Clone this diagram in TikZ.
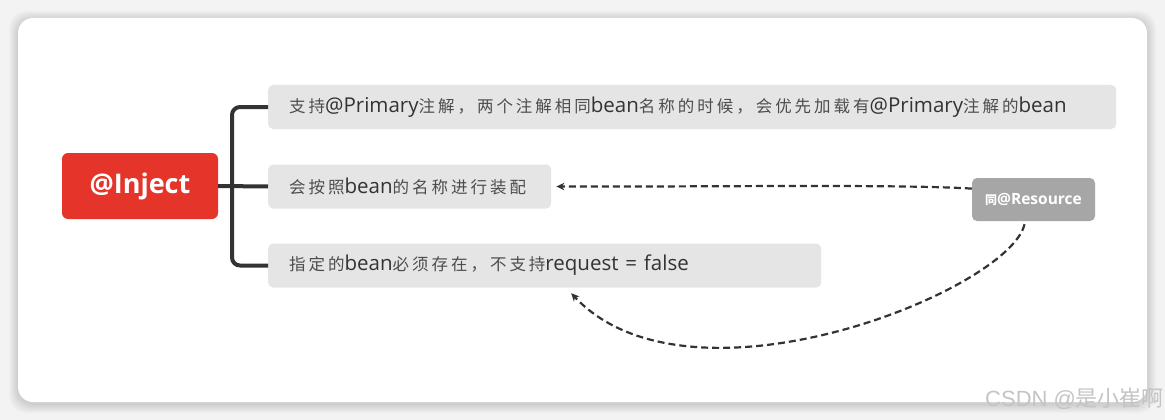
\documentclass[tikz,border=0pt]{standalone}
\usepackage{fontspec}
\setmainfont{Open Sans}
\newfontfamily\cjk[LetterSpace=18]{Noto Sans CJK SC}
\newfontfamily\cjkplain{Noto Sans CJK SC}
\newfontfamily\wmfont{Liberation Sans}
\usetikzlibrary{arrows.meta}
\definecolor{bgc}{HTML}{F3F3F3}
\definecolor{injred}{HTML}{E5352A}
\definecolor{childgray}{HTML}{E5E5E5}
\definecolor{resgray}{HTML}{A6A6A6}
\definecolor{linec}{HTML}{333333}
\definecolor{latc}{HTML}{333333}
\definecolor{zhc}{HTML}{4D4D4D}
\definecolor{wmc}{HTML}{C4C4C4}
\newcommand\zh[1]{{\fontsize{16.5}{22}\cjk\color{zhc}#1}}
\tikzset{
  injbox/.style={fill=injred, rounded corners=6pt, minimum width=156pt, minimum height=66pt,
    inner sep=0pt, text=white, font=\fontsize{27}{30}\selectfont\bfseries},
  childbox/.style={fill=childgray, rounded corners=5pt, minimum height=44pt, inner xsep=21pt,
    inner ysep=0pt, align=left, anchor=west, text=latc, font=\fontsize{20.5}{22}\selectfont},
  resbox/.style={fill=resgray, rounded corners=5pt, minimum width=123pt, minimum height=43pt,
    inner sep=0pt, text=white, font=\fontsize{15.5}{18}\selectfont\bfseries},
  bracket/.style={draw=linec, line width=4pt, rounded corners=8pt},
  dasharrow/.style={draw=linec, line width=2.2pt, dash pattern=on 7pt off 4pt,
    -{Stealth[length=8pt,width=7.5pt]}},
  watermark/.style={text=wmc, font=\fontsize{22}{24}\wmfont, inner sep=0pt, anchor=base west}
}
\begin{document}
\begin{tikzpicture}[x=1pt,y=-1pt]
\useasboundingbox (0,0) rectangle (1165,420);
\fill[bgc] (0,0) rectangle (1165,420);
% card shadow
\foreach \i in {1,...,9}{
  \fill[black, opacity=0.014, rounded corners=17pt] (18-\i,18-\i+2) rectangle (1147+\i,402+\i+2);
}
\fill[white, rounded corners=15pt] (18,18) rectangle (1147,402);

% nodes
\node[injbox] (inj) at (140,186) {@Inject};
\node[childbox, text width=806pt] (c1) at (268,107)
  {\mbox{\zh{支持}@Primary\zh{注解，两个注解相同}bean\zh{名称的时候，会优先加载有}@Primary\zh{注解的}bean}};
\node[childbox, text width=241pt] (c2) at (268,186.5)
  {\mbox{\zh{会按照}bean\zh{的名称进行装配}}};
\node[childbox, text width=511pt] (c3) at (268,265.5)
  {\mbox{\zh{指定的}bean\zh{必须存在，不支持}request = false}};
\node[resbox] (res) at (1033.5,199.5) {{\fontsize{12}{14}\cjkplain 同}@Resource};
\node[watermark] (wm) at (985,406) {CSDN @{\cjkplain 是小崔啊}};

% bracket
\coordinate (fork) at (232,186);
\draw[bracket] (inj.east) -- (c2.west);
\draw[bracket] (c1.west) -| (fork) |- (c3.west);

% dashed arrows
\draw[dasharrow] (res.170) .. controls (900,184) and (700,187) .. ([xshift=5pt]c2.east);
\draw[dasharrow] ([xshift=-9pt,yshift=-3pt]res.south) .. controls (1010,290) and (690,420) .. ([xshift=26.5pt,yshift=-5.5pt]c3.south);
\end{tikzpicture}
\end{document}
